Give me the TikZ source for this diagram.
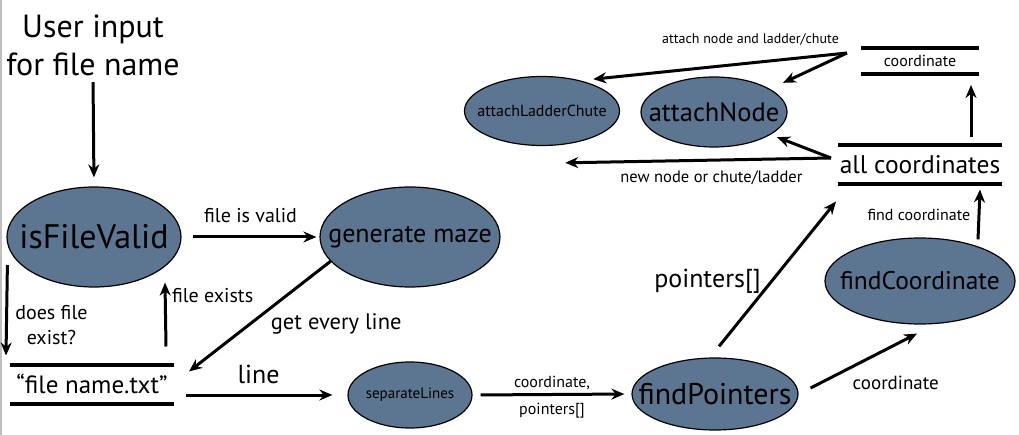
\documentclass[tikz,border=0pt]{standalone}
\usepackage{fontspec}
\setmainfont{PT Sans}
\usetikzlibrary{arrows.meta,shapes.geometric,positioning}
\definecolor{slate}{RGB}{92,117,145}
\newcommand{\fs}[1]{\fontsize{#1}{#1}\selectfont}
\newcommand{\inell}[1]{\makebox[0pt]{#1}}
\begin{document}
\begin{tikzpicture}[x=1pt,y=-1pt,>={Stealth[length=13pt,width=11pt]},line width=3pt]
	\tikzset{blob/.style={ellipse,draw=black,line width=1.2pt,fill=slate,inner sep=0pt}}
	\tikzset{bar/.style={inner sep=0pt}}
	\tikzset{lbl/.style={inner sep=0pt}}
	\useasboundingbox (0,0) rectangle (1019,435);
	\draw[gray!50,line width=2pt] (1,0) -- (1,435);
	\node[lbl,align=center,font=\fs{32}] (user) at (93,45) {User input\\[6pt]for file name};
	\node[blob,minimum width=174pt,minimum height=100pt,font=\fs{34}] (valid) at (94,237) {\inell{isFileValid}};
	\node[blob,minimum width=180pt,minimum height=100pt,font=\fs{26}] (maze) at (410,237) {\inell{generate maze}};
	\node[bar,minimum width=161pt,minimum height=36pt,font=\fs{25}] (fname) at (92,384) {``file name.txt''};
	\node[blob,minimum width=124pt,minimum height=66pt,font=\fs{15}] (sep) at (410,395) {\inell{separateLines}};
	\node[blob,minimum width=166pt,minimum height=72pt,font=\fs{30}] (findp) at (715,394) {\inell{findPointers}};
	\node[blob,minimum width=190pt,minimum height=86pt,font=\fs{25.5}] (findc) at (920,281) {\inell{findCoordinate}};
	\node[bar,minimum width=161pt,minimum height=36pt,font=\fs{25.5}] (allc) at (920,165) {all coordinates};
	\node[bar,minimum width=115pt,minimum height=23pt,font=\fs{16}] (coord) at (920,61) {coordinate};
	\node[blob,minimum width=146pt,minimum height=70pt,font=\fs{26.5}] (attn) at (714,112) {\inell{attachNode}};
	\node[blob,minimum width=155pt,minimum height=69pt,font=\fs{16}] (attl) at (542,111) {\inell{attachLadderChute}};
	\foreach \b in {fname,allc,coord}
		\draw[line width=4pt] (\b.north west) -- (\b.north east) (\b.south west) -- (\b.south east);
	\coordinate (fork) at ([xshift=-14pt,yshift=8pt]coord.west);
	\coordinate (split) at ([xshift=-7pt,yshift=7pt]allc.west);
	\coordinate (away) at ([xshift=-32pt,yshift=-27pt]attl.south east);
	\draw[->,shorten <=5pt,shorten >=9pt] (user.south) -- (valid.north);
	\draw[->,shorten <=11pt,shorten >=3pt] (valid.east) -- (maze.west)
		node[midway,above=9pt,font=\fs{20}] {file is valid};
	\draw[->] (maze.197) -- ([xshift=15pt,yshift=-7pt]fname.north east)
		node[pos=0.3,below right=14pt and -22pt,font=\fs{22.5}] {get every line};
	\draw[->] ([xshift=1pt,yshift=-28pt]valid.west) -- ([xshift=-4pt,yshift=9pt]fname.north west)
		node[pos=0.66,right=4pt,align=center,font=\fs{20}] {does file\\[5pt]exist?};
	\draw[->] ([xshift=-8pt,yshift=18pt]fname.north east) -- ([xshift=71pt,yshift=5pt]valid.south)
		node[pos=0.8,right=2pt,font=\fs{20}] {file exists};
	\draw[->,shorten >=15pt] ([xshift=12pt,yshift=-11pt]fname.east) -- (sep.west)
		node[pos=0.45,above=6pt,font=\fs{26}] {line};
	\draw[->,shorten <=8pt,shorten >=7pt] (sep.east) -- (findp.west)
		node[midway,above=0pt,font=\fs{16}] {coordinate,}
		node[midway,below=4pt,font=\fs{16}] {pointers[]};
	\draw[->] ([xshift=4pt,yshift=11pt]findp.north) -- ([xshift=-2pt,yshift=-17pt]allc.south west)
		node[pos=0.45,left=6pt,font=\fs{26}] {pointers[]};
	\draw[->] ([xshift=12pt,yshift=6pt]findp.east) -- ([xshift=-3pt,yshift=-9pt]findc.south)
		node[pos=0.8,below=27pt,font=\fs{19}] {coordinate};
	\draw[->] ([xshift=58pt,yshift=-2pt]findc.north) -- ([xshift=-22pt,yshift=-5pt]allc.south east)
		node[midway,left=4pt,font=\fs{16}] {find coordinate};
	\draw[->] ([xshift=-31pt,yshift=8pt]allc.north east) -- ([xshift=-8pt,yshift=-11pt]coord.south east);
	\draw[->] (fork) -- ([xshift=-4pt,yshift=7pt]attl.north east)
		node[pos=0.38,above=13pt,font=\fs{14}] {attach node and ladder/chute};
	\draw[->] (fork) -- ([xshift=17pt,yshift=4pt]attn.north east);
	\draw[->] (split) -- ([xshift=11pt]attn.south east);
	\draw[->] (split) -- (away)
		node[pos=0.45,below=6pt,font=\fs{16.5}] {new node or chute/ladder};
\end{tikzpicture}
\end{document}
